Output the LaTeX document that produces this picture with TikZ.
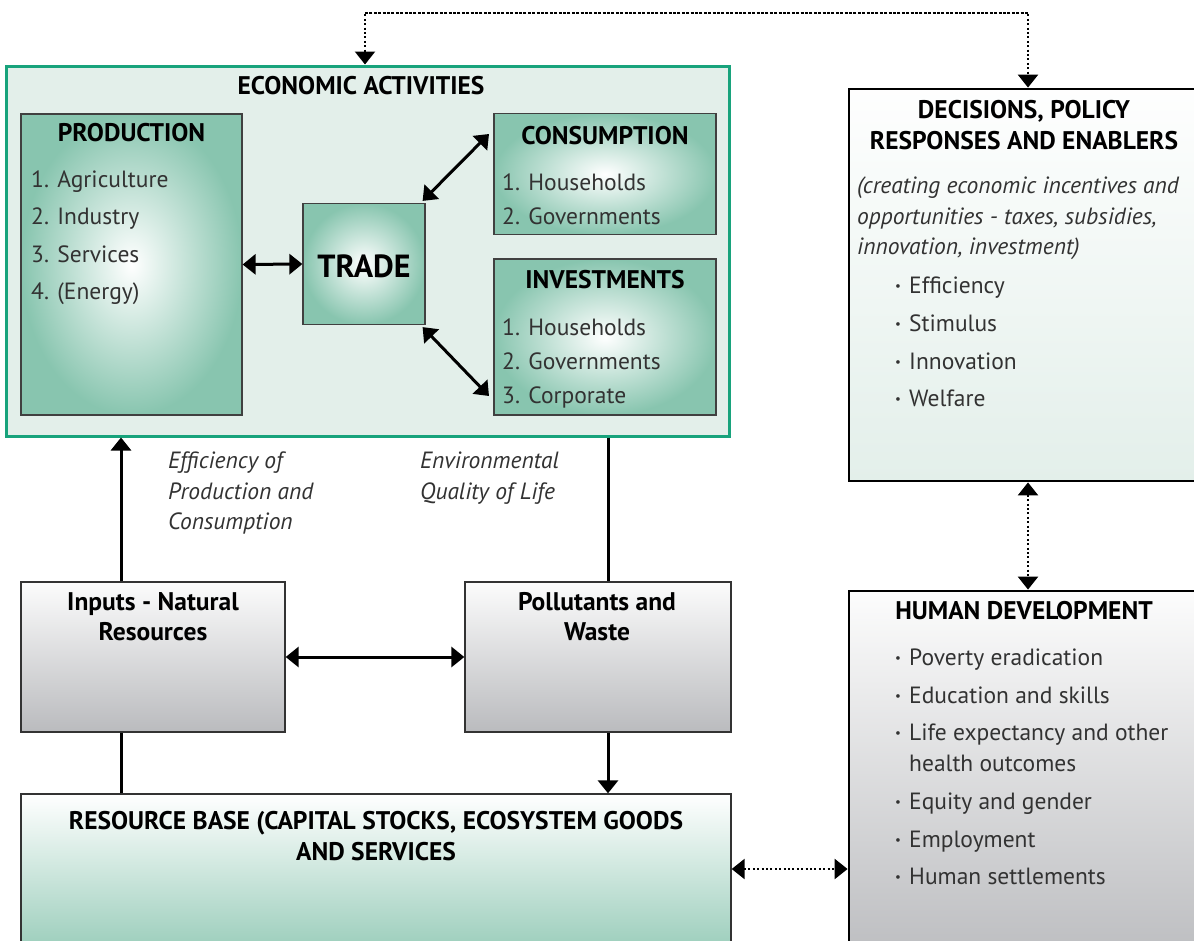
\documentclass[tikz,border=0pt]{standalone}
\usepackage{fontspec}
\setmainfont{PT Sans}
\usetikzlibrary{arrows.meta,calc}
\definecolor{ecoborder}{RGB}{24,163,124}
\definecolor{ecofill}{RGB}{227,239,234}
\definecolor{boxgreen}{RGB}{136,197,175}
\definecolor{resgreen}{RGB}{146,201,181}
\definecolor{grayend}{RGB}{186,187,190}
\definecolor{txtgray}{RGB}{50,50,50}
\newcommand{\bul}{\makebox[14pt][l]{\raisebox{0.22ex}{\fontsize{13}{13}\selectfont\textbullet}}}
\begin{document}
\begin{tikzpicture}[x=1pt,y=-1pt,
  greenbox/.style={draw=black!75, line width=1.2pt, shading=radial, inner color=white, outer color=boxgreen, inner sep=0pt},
  graybox/.style={draw=black!80, line width=1.3pt, top color=white!95!grayend, bottom color=grayend, inner sep=0pt},
  blackbox/.style={draw=black, line width=2.8pt, inner sep=0pt},
  body/.style={font=\fontsize{23.5}{28}\selectfont, text=txtgray, inner sep=0pt, anchor=base west},
  ital/.style={font=\fontsize{23.5}{28}\selectfont\itshape, text=txtgray, inner sep=0pt, anchor=base west},
  title/.style={font=\fontsize{25.5}{30}\selectfont\bfseries, text=black, inner sep=0pt, anchor=base},
  conn/.style={line width=3pt, black},
  tipS/.style={-{Triangle[width=20pt,length=13pt]}},
  tipD/.style={{Triangle[width=20pt,length=13pt]}-{Triangle[width=20pt,length=13pt]}},
  dotc/.style={line width=2.3pt, dash pattern=on 2pt off 2.4pt, black},
]
\clip (0,0) rectangle (1194,940);
\useasboundingbox (0,0) rectangle (1194,940);
\fill[white] (0,0) rectangle (1194,940);

% ---------- boxes ----------
\node[draw=ecoborder, line width=3pt, fill=ecofill, minimum width=723pt, minimum height=370pt, inner sep=0pt] (econ) at (368,251) {};
\node[greenbox, minimum width=221pt, minimum height=301pt] (prod) at (131.5,264.5) {};
\node[greenbox, minimum width=122pt, minimum height=121pt] (trade) at (364,264) {};
\node[greenbox, minimum width=222pt, minimum height=121pt] (cons) at (605,174) {};
\node[greenbox, minimum width=222pt, minimum height=156pt] (inv) at (605,337) {};

\node[blackbox, top color=white!96!ecofill, bottom color=ecofill, minimum width=372pt, minimum height=392pt] (dec) at (1035,285) {};
\node[blackbox, top color=white!96!grayend, bottom color=grayend, minimum width=372pt, minimum height=380pt] (hum) at (1035,781) {};

\node[graybox, minimum width=264pt, minimum height=150pt] (inp) at (153,657) {};
\node[graybox, minimum width=266pt, minimum height=150pt] (pol) at (598,657) {};
\node[draw=black!80, line width=1.3pt, top color=white, bottom color=resgreen, minimum width=710pt, minimum height=170pt, inner sep=0pt] (res) at (376,879) {};

% ---------- texts ----------
\node[title] (tEcon) at (361,94) {ECONOMIC ACTIVITIES};
\node[title] (tProd) at (131.5,141) {PRODUCTION};
\node[body] (p1) at (31,187) {1. Agriculture};
\node[body] (p2) at (31,224) {2. Industry};
\node[body] (p3) at (31,262) {3. Services};
\node[body] (p4) at (31,299) {4. (Energy)};
\node[font=\fontsize{32}{36}\selectfont\bfseries, inner sep=0pt] (tTrade) at (364,266) {TRADE};
\node[title] (tCons) at (605,144) {CONSUMPTION};
\node[body] (c1) at (502,190) {1. Households};
\node[body] (c2) at (502,224) {2. Governments};
\node[title] (tInv) at (605,288) {INVESTMENTS};
\node[body] (i1) at (502,335) {1. Households};
\node[body] (i2) at (502,369) {2. Governments};
\node[body] (i3) at (502,403) {3. Corporate};

\node[title] (tDec1) at (1024,118) {DECISIONS, POLICY};
\node[title] (tDec2) at (1024,149) {RESPONSES AND ENABLERS};
\node[ital] (d1) at (857,193) {(creating economic incentives and};
\node[ital] (d2) at (857,224) {opportunities - taxes, subsidies,};
\node[ital] (d3) at (857,254) {innovation, investment)};
\node[body] (b1) at (895,293) {\bul Efficiency};
\node[body] (b2) at (895,331) {\bul Stimulus};
\node[body] (b3) at (895,369) {\bul Innovation};
\node[body] (b4) at (895,406) {\bul Welfare};

\node[title] (tHum) at (1024,619) {HUMAN DEVELOPMENT};
\node[body] (h1) at (895,665) {\bul Poverty eradication};
\node[body] (h2) at (895,703) {\bul Education and skills};
\node[body] (h3) at (895,740) {\bul Life expectancy and other};
\node[body] (h4) at (909,771) {health outcomes};
\node[body] (h5) at (895,809) {\bul Equity and gender};
\node[body] (h6) at (895,847) {\bul Employment};
\node[body] (h7) at (895,884) {\bul Human settlements};

\node[title] (tInp1) at (153,610) {Inputs - Natural};
\node[title] (tInp2) at (153,640) {Resources};
\node[title] (tPol1) at (597,610) {Pollutants and};
\node[title] (tPol2) at (597,640) {Waste};
\node[title] (tRes1) at (376,829) {RESOURCE BASE (CAPITAL STOCKS, ECOSYSTEM GOODS};
\node[title] (tRes2) at (376,860) {AND SERVICES};

\node[ital] (e1) at (168,468) {Efficiency of};
\node[ital] (e2) at (168,499) {Production and};
\node[ital] (e3) at (168,529) {Consumption};
\node[ital] (q1) at (420,468) {Environmental};
\node[ital] (q2) at (420,499) {Quality of Life};

% ---------- connector helpers ----------
\coordinate (tl) at (365,13);
\coordinate (tr) at (1028,13);
\coordinate (lx) at (121,0);
\coordinate (rx) at (608,0);
\coordinate (my) at (0,869);
\coordinate (consTip) at (489,134);
\coordinate (invTip) at (489,396);

% ---------- connectors ----------
\draw[dotc, -{Triangle[width=20pt,length=13pt]}] (tr) -- (tl) -- (econ.north -| tl);
\draw[dotc, -{Triangle[width=20pt,length=13pt]}] (tl) -- (tr) -- (dec.north -| tr);
\draw[conn, tipD] (prod.east) -- (trade.west);
\draw[conn, tipD] ([shift={(-3,-2)}]trade.north east) -- (consTip);
\draw[conn, tipD] ([shift={(-3,2)}]trade.south east) -- (invTip);
\draw[conn, tipS] (inp.north -| lx) -- (econ.south -| lx);
\draw[conn] (res.north -| lx) -- (inp.south -| lx);
\draw[conn] (econ.south -| rx) -- (pol.north -| rx);
\draw[conn, tipS] (pol.south -| rx) -- (res.north -| rx);
\draw[conn, tipD] (inp.east) -- (pol.west);
\draw[dotc, tipD] (dec.south -| tr) -- (hum.north -| tr);
\draw[dotc, tipD] (res.east |- my) -- (hum.west |- my);
\end{tikzpicture}
\end{document}
